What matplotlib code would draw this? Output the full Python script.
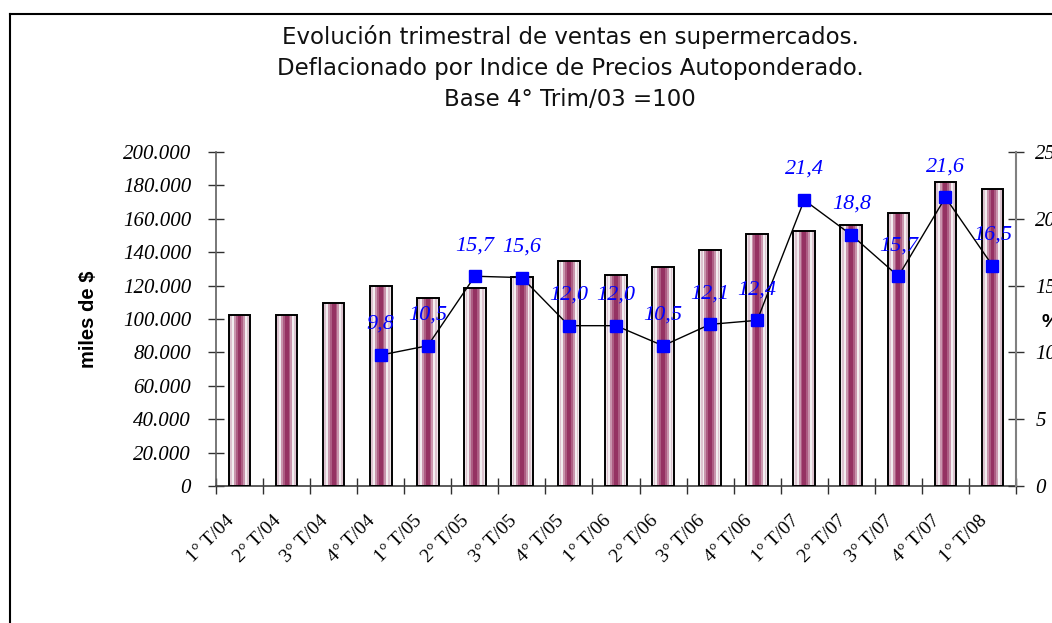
import matplotlib
matplotlib.use("Agg")
import matplotlib.pyplot as plt
from matplotlib.ticker import FixedLocator
from matplotlib.transforms import ScaledTranslation

categories = ["1° T/04", "2° T/04", "3° T/04", "4° T/04",
              "1° T/05", "2° T/05", "3° T/05", "4° T/05",
              "1° T/06", "2° T/06", "3° T/06", "4° T/06",
              "1° T/07", "2° T/07", "3° T/07", "4° T/07",
              "1° T/08"]
ventas = [102400, 102400, 109600, 119800,
          112800, 118400, 125300, 134700,
          126300, 131000, 141300, 150700,
          152900, 156300, 163300, 182200,
          177800]
variacion = [None, None, None, 9.8,
             10.5, 15.7, 15.6, 12.0,
             12.0, 10.5, 12.1, 12.4,
             21.4, 18.8, 15.7, 21.6,
             16.5]
var_labels = ["", "", "", "9,8", "10,5", "15,7", "15,6", "12,0", "12,0",
              "10,5", "12,1", "12,4", "21,4", "18,8", "15,7", "21,6", "16,5"]
left_ticks = [0, 20000, 40000, 60000, 80000, 100000, 120000, 140000,
              160000, 180000, 200000]
left_ticklabels = ["0", "20.000", "40.000", "60.000", "80.000", "100.000",
                   "120.000", "140.000", "160.000", "180.000", "200.000"]
right_ticks = [0, 5, 10, 15, 20, 25]
right_ticklabels = ["0", "5", "10", "15", "20", "25"]
title_lines = ["Evolución trimestral de ventas en supermercados.",
               "Deflacionado por Indice de Precios Autoponderado.",
               "Base 4° Trim/03 =100"]

fig = plt.figure(figsize=(10.52, 6.23), dpi=100)
fig.patch.set_facecolor("white")

# outer frame (only left and top visible)
fig.add_artist(plt.Line2D([10/1052, 10/1052], [0, 1-14/623], color="black", lw=1.5,
                          transform=fig.transFigure))
fig.add_artist(plt.Line2D([10/1052, 1], [1-14/623, 1-14/623], color="black", lw=1.5,
                          transform=fig.transFigure))

ax = fig.add_axes([216/1052, 1-486/623, 800/1052, 334/623])
ax2 = ax.twinx()

n = len(categories)
x = list(range(n))
bw = 0.46
bands = [(1.00, "#efe7eb"), (0.86, "#dcc3cf"), (0.70, "#f3edf0"),
         (0.52, "#c995ad"), (0.34, "#ad5d83"), (0.18, "#953262")]
for frac, col in bands:
    ax.bar(x, ventas, width=bw*frac, color=col, edgecolor="none", zorder=2)
ax.bar(x, ventas, width=bw, facecolor="none", edgecolor="black", lw=1.4, zorder=3)

ax.set_xlim(-0.5, n - 0.5)
ax.set_ylim(0, 200000)
ax2.set_ylim(0, 25)

xs = [xi for xi, v in zip(x, variacion) if v is not None]
vs = [v for v in variacion if v is not None]
ax2.plot(xs, vs, color="black", lw=1.0, marker="s", markersize=8,
         markerfacecolor="#0000ff", markeredgecolor="#0000ff", zorder=5)
for xi, v, lab in zip(x, variacion, var_labels):
    if v is None:
        continue
    ax2.annotate(lab, (xi, v), xytext=(0, 22), textcoords="offset points",
                 ha="center", va="center", color="#0000ff",
                 fontfamily="Liberation Serif", fontstyle="italic", fontsize=16,
                 zorder=6)

serif = "Liberation Serif"
for a in (ax, ax2):
    a.set_facecolor("none")
    a.spines["top"].set_visible(False)
ax.spines["right"].set_visible(False)
ax2.spines["left"].set_visible(False)
ax2.spines["bottom"].set_visible(False)
ax.spines["left"].set_color("#606060")
ax.spines["bottom"].set_color("#404040")
ax2.spines["right"].set_color("#808080")
for s in ("left", "bottom"):
    ax.spines[s].set_linewidth(1.2)
ax2.spines["right"].set_linewidth(1.5)

ax.set_yticks(left_ticks)
ax.set_yticklabels(left_ticklabels, fontfamily=serif, fontstyle="italic", fontsize=15)
ax.tick_params(axis="y", direction="inout", length=12, width=1.0, color="#303030", pad=12)

ax2.set_yticks(right_ticks)
ax2.set_yticklabels(right_ticklabels, fontfamily=serif, fontstyle="italic", fontsize=15)
ax2.tick_params(axis="y", direction="inout", length=12, width=1.0, color="#303030", pad=8)

ax.set_xticks(x)
ax.set_xticklabels(categories, fontfamily=serif, fontsize=14, rotation=45,
                   ha="right", va="top", rotation_mode="anchor")
ax.tick_params(axis="x", which="major", length=0, pad=19)
shift = ScaledTranslation(-14/100, 0, fig.dpi_scale_trans)
for lbl in ax.get_xticklabels():
    lbl.set_transform(lbl.get_transform() + shift)
ax.xaxis.set_minor_locator(FixedLocator([i + 0.5 for i in range(-1, n)]))
ax.tick_params(axis="x", which="minor", direction="inout", length=12, width=1.0,
               color="#303030")

ax.set_ylabel("miles de $", fontfamily="Liberation Sans", fontweight="bold",
              fontsize=14.5)
ax.yaxis.set_label_coords(-0.148, 0.5)
ax2.set_ylabel("%", fontfamily="Liberation Sans", fontweight="bold",
               fontsize=14, rotation=0, va="center", ha="left")
ax2.yaxis.set_label_coords(1.032, 0.49)

title_y = [1-37/623, 1-69/623, 1-100/623]
for line, ty in zip(title_lines, title_y):
    fig.text(570/1052, ty, line, ha="center", va="center",
             fontfamily="DejaVu Sans", fontsize=16.5, color="#111111")

fig.savefig("out.png", dpi=100, facecolor="white")
